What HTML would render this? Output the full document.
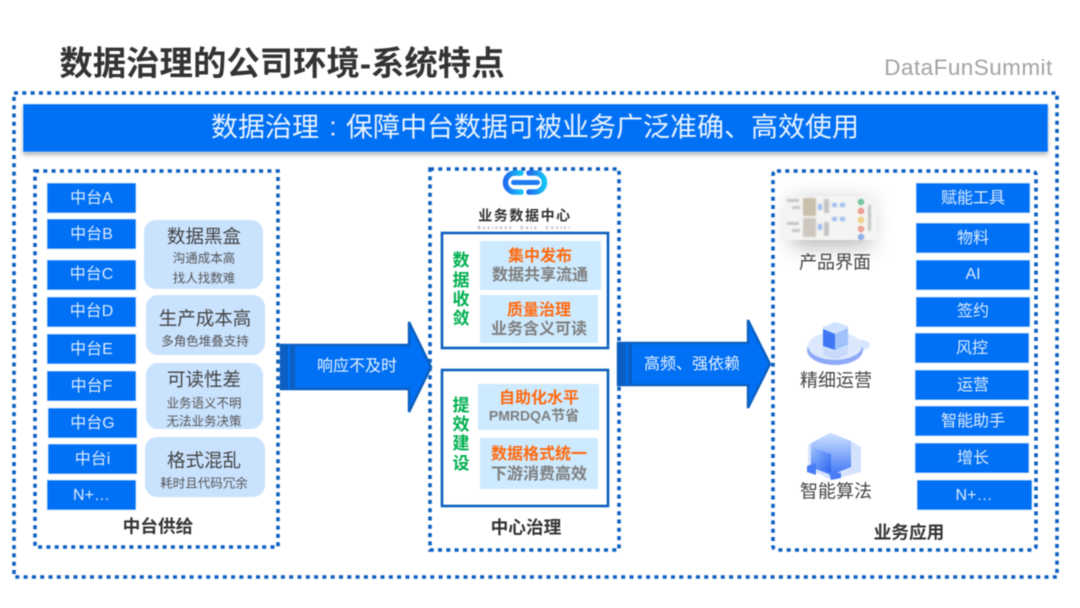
<!DOCTYPE html>
<html lang="zh-CN"><head><meta charset="utf-8"><title>数据治理的公司环境-系统特点</title>
<style>
html,body{margin:0;padding:0;background:#fff;width:1080px;height:608px;overflow:hidden}
svg{display:block;filter:blur(.5px)}
text{font-family:"Liberation Sans","Noto Sans CJK SC",sans-serif;text-anchor:middle;dominant-baseline:central;transform:translateY(1.5px)}
.dot{fill:none;stroke:#0b5fc0;stroke-width:3.6;stroke-dasharray:4 4.3}
.b{fill:#0070f5;stroke:#d5e6fb;stroke-width:.8}
.bt{fill:#dcebff;font-size:16px}
.p{fill:#c9e2fe}
.h{fill:#444;font-size:18.5px}
.s{fill:#555;font-size:12.5px}
.f{fill:#333;font-size:17.7px;font-weight:700}
.lb{fill:#cdeafe}
.o{fill:#ff6a10;font-size:16px;font-weight:700}
.g{fill:#7f7f7f;font-size:16px;font-weight:700}
.gr{fill:#00b050;font-size:17px;font-weight:700}
.c{fill:#444;font-size:18px}
.w{fill:#e6f1ff;font-size:16px}
</style></head><body>
<svg width="1080" height="608" viewBox="0 0 1080 608" xmlns="http://www.w3.org/2000/svg">
<defs>
<filter id="sh" x="-10%" y="-30%" width="120%" height="170%"><feGaussianBlur stdDeviation="2"/></filter>
<filter id="sh2" x="-40%" y="-60%" width="180%" height="220%"><feGaussianBlur stdDeviation="11"/></filter>
<filter id="bl" x="-5%" y="-5%" width="110%" height="110%"><feGaussianBlur stdDeviation=".8"/></filter>
<linearGradient id="ic" x1="0" y1="0" x2="0" y2="1"><stop offset="0" stop-color="#cfe2ff"/><stop offset="1" stop-color="#3f77f5"/></linearGradient>
<linearGradient id="ic2" x1="0" y1="0" x2="1" y2="1"><stop offset="0" stop-color="#8db8fb"/><stop offset="1" stop-color="#2e62f2"/></linearGradient>
<linearGradient id="lg" x1="0" y1="0" x2="1" y2="0"><stop offset="0" stop-color="#1f6cf0"/><stop offset="1" stop-color="#16c3f5"/></linearGradient>
</defs>

<text x="282" y="63" style="font-size:33.4px;font-weight:700;fill:#333">数据治理的公司环境-系统特点</text>
<text x="968.5" y="66" style="font-size:22.5px;fill:#a3a3a3;letter-spacing:.45px">DataFunSummit</text>

<rect class="dot" x="14" y="93" width="1043" height="484"/>
<rect x="23" y="107" width="1025" height="48" fill="#888" opacity=".6" filter="url(#sh)"/>
<rect x="23" y="104" width="1025" height="48" fill="#0070f5" stroke="#cfe2fb" stroke-width=".6"/>
<text x="265" y="126" style="font-size:27px;fill:#eaf3ff">数据治理</text>
<text x="333" y="125" style="font-size:27px;fill:#eaf3ff">:</text>
<text x="602.5" y="126" style="font-size:27px;fill:#eaf3ff">保障中台数据可被业务广泛准确、高效使用</text>

<!-- left -->
<rect class="dot" x="35" y="171" width="243" height="376"/>
<rect class="b" x="47" y="183" width="89" height="30"/><text class="bt" x="91.5" y="197">中台A</text>
<rect class="b" x="47" y="219" width="89" height="30"/><text class="bt" x="91.5" y="233">中台B</text>
<rect class="b" x="47" y="260" width="89" height="30"/><text class="bt" x="91.5" y="273">中台C</text>
<rect class="b" x="47" y="297" width="89" height="30"/><text class="bt" x="91.5" y="310">中台D</text>
<rect class="b" x="47" y="334" width="89" height="30"/><text class="bt" x="91.5" y="348">中台E</text>
<rect class="b" x="47" y="371" width="89" height="30"/><text class="bt" x="91.5" y="385">中台F</text>
<rect class="b" x="48" y="408" width="89" height="30"/><text class="bt" x="92.5" y="422">中台G</text>
<rect class="b" x="48" y="444" width="89" height="30"/><text class="bt" x="92.5" y="458">中台i</text>
<rect class="b" x="47" y="480" width="89" height="30"/><text class="bt" x="91.5" y="494">N+…</text>

<rect class="p" x="144" y="220" width="119" height="69" rx="12"/>
<text class="h" x="204" y="235">数据黑盒</text><text class="s" x="204" y="257">沟通成本高</text><text class="s" x="204" y="277">找人找数难</text>
<rect class="p" x="146" y="295" width="119" height="60" rx="12"/>
<text class="h" x="205" y="317">生产成本高</text><text class="s" x="205" y="340">多角色堆叠支持</text>
<rect class="p" x="146" y="363" width="117" height="66" rx="12"/>
<text class="h" x="204" y="378">可读性差</text><text class="s" x="204" y="402">业务语义不明</text><text class="s" x="204" y="420">无法业务决策</text>
<rect class="p" x="145" y="437" width="120" height="60" rx="12"/>
<text class="h" x="204" y="459">格式混乱</text><text class="s" x="204" y="482">耗时且代码冗余</text>
<text class="f" x="158" y="525">中台供给</text>

<!-- arrow 1 -->
<path d="M281 345H409V322L431 367 409 412V389H281Z" fill="#0070f5" stroke="#0b5fc0" stroke-width="2.4"/>
<rect x="281" y="345" width="14" height="44" fill="#0b5fc0"/><rect x="288" y="345" width="2" height="44" fill="#0070f5"/>
<text class="w" x="357" y="365">响应不及时</text>

<!-- center -->
<rect class="dot" x="430" y="169" width="189" height="381"/>
<g fill="none" stroke="url(#lg)" stroke-width="5.5" stroke-linecap="round"><path d="M521 173h-6a9.5 9.5 0 0 0 0 19h6"/><path d="M529 173h6a9.5 9.5 0 0 1 0 19h-6"/></g>
<rect x="511" y="180" width="29" height="5" rx="2.5" fill="#1f7cf0"/>
<text x="525" y="214" style="font-size:14px;font-weight:700;fill:#333;letter-spacing:1.6px">业务数据中心</text>
<text x="525" y="226" style="font-size:4.5px;fill:#777;letter-spacing:2.2px" xml:space="preserve">Business  Data  Center</text>

<rect x="442" y="233" width="166" height="115" fill="#fff" stroke="#0b5fc0" stroke-width="2.6"/>
<rect x="442" y="370" width="166" height="136" fill="#fff" stroke="#0b5fc0" stroke-width="2.6"/>
<rect class="lb" x="480" y="241" width="121" height="49"/><rect class="lb" x="480" y="295" width="118" height="48"/>
<rect class="lb" x="478" y="384" width="121" height="46"/><rect class="lb" x="480" y="438" width="118" height="51"/>
<text class="o" x="540" y="255">集中发布</text><text class="g" x="540" y="274">数据共享流通</text>
<text class="o" x="539" y="309">质量治理</text><text class="g" x="539" y="328">业务含义可读</text>
<text class="o" x="539" y="397">自助化水平</text><text class="g" x="534" y="414" style="font-size:14px">PMRDQA节省</text>
<text class="o" x="539" y="453">数据格式统一</text><text class="g" x="539" y="473">下游消费高效</text>
<text class="gr" x="461" y="259">数</text><text class="gr" x="461" y="279">据</text><text class="gr" x="461" y="298">收</text><text class="gr" x="461" y="317">敛</text>
<text class="gr" x="461" y="404">提</text><text class="gr" x="461" y="423">效</text><text class="gr" x="461" y="442">建</text><text class="gr" x="461" y="462">设</text>
<text class="f" x="526" y="526">中心治理</text>

<!-- arrow 2 -->
<path d="M618 343H748V320L770 364 748 408V385H618Z" fill="#0070f5" stroke="#0b5fc0" stroke-width="2.4"/>
<rect x="618" y="343" width="14" height="42" fill="#0b5fc0"/><rect x="626" y="343" width="2" height="42" fill="#0070f5"/>
<text class="w" x="692" y="363">高频、强依赖</text>

<!-- right -->
<rect class="dot" x="773" y="171" width="263" height="379" rx="4"/>
<rect x="792" y="202" width="78" height="44" fill="#777" opacity=".55" filter="url(#sh2)"/>
<rect x="784" y="196" width="93" height="44" fill="#f4f4f2"/>
<g filter="url(#bl)">
<rect x="803" y="198" width="13" height="18" fill="#c8c0ac"/><rect x="803" y="218" width="13" height="19" fill="#cdc7c0"/>
<g fill="#c4c4c4"><rect x="787" y="199" width="12" height="3"/><rect x="792" y="206" width="8" height="3"/><rect x="787" y="222" width="12" height="3"/><rect x="792" y="229" width="8" height="3"/><rect x="824" y="199" width="5" height="14"/><rect x="824" y="222" width="5" height="14"/><rect x="868" y="205" width="3" height="26"/></g>
<g fill="#9dbcf0"><rect x="818" y="204" width="4" height="6"/><rect x="818" y="224" width="4" height="6"/><rect x="832" y="203" width="5" height="4"/><rect x="840" y="203" width="5" height="4"/><rect x="832" y="217" width="5" height="4"/><rect x="840" y="217" width="5" height="4"/></g>
<g fill="none" stroke-width="2"><circle cx="861" cy="202" r="2" stroke="#47b07c"/><circle cx="861" cy="211" r="2" stroke="#ea7a6c"/><circle cx="861" cy="220" r="2" stroke="#edc45b"/><circle cx="861" cy="229" r="2" stroke="#e9806c"/><circle cx="861" cy="237" r="2" stroke="#6a94e6"/></g>
</g>
<text class="c" x="835" y="261">产品界面</text>

<ellipse cx="861" cy="345" rx="9" ry="5" fill="#d7e5fd"/>
<ellipse cx="835" cy="350" rx="28" ry="15" fill="#8ea9f8"/>
<ellipse cx="835" cy="346" rx="27" ry="14" fill="#dbe8fe"/>
<path d="M823 327l12-5 13 4v27l-13 5-12-5z" fill="#cfe2ff"/><path d="M823 329l12 5v16l-12-4z" fill="#3f77f5"/><path d="M835 334l13-6v17l-13 5z" fill="#9fc2fb"/>
<path d="M823 348l12 4 13-5v3l-13 5-12-4zM823 352l12 4 13-5v3l-13 5-12-4z" fill="#c6d8fc"/>
<text class="c" x="836" y="379">精细运营</text>

<path d="M808 445l21-12 22 8 10 6v25l-30 8-23-12z" fill="#d5e2fe"/>
<path d="M811 443l20-10 20 8v26l-20 8-20-8z" fill="url(#ic)"/>
<path d="M814 448l17 6v19l-17-7z" fill="url(#ic2)"/>
<path d="M807 466l9-3v12l-9-3zM829 472l12 1v5l-10 2z" fill="#4a7df5"/>
<text class="c" x="836" y="490">智能算法</text>

<rect class="b" x="916" y="183" width="114" height="30"/><text class="bt" x="973" y="197">赋能工具</text>
<rect class="b" x="916" y="223" width="114" height="30"/><text class="bt" x="973" y="237">物料</text>
<rect class="b" x="916" y="260" width="114" height="30"/><text class="bt" x="973" y="273">AI</text>
<rect class="b" x="916" y="297" width="114" height="30"/><text class="bt" x="973" y="310">签约</text>
<rect class="b" x="915" y="333" width="114" height="30"/><text class="bt" x="972" y="347">风控</text>
<rect class="b" x="915" y="370" width="114" height="30"/><text class="bt" x="973" y="384">运营</text>
<rect class="b" x="915" y="406" width="114" height="30"/><text class="bt" x="973" y="420">智能助手</text>
<rect class="b" x="915" y="443" width="114" height="30"/><text class="bt" x="973" y="457">增长</text>
<rect class="b" x="917" y="480" width="115" height="30"/><text class="bt" x="974" y="494">N+…</text>
<text class="f" x="909" y="531">业务应用</text>
</svg>
</body></html>
